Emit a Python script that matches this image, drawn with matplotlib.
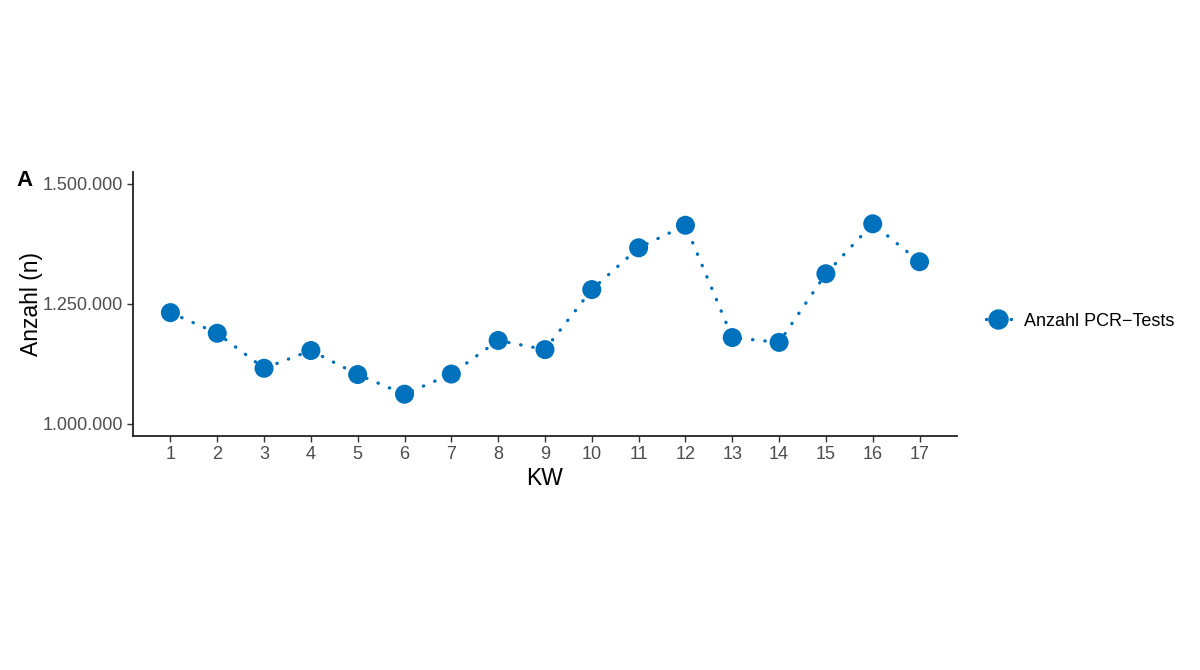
import matplotlib
matplotlib.use("Agg")
import matplotlib.pyplot as plt
from matplotlib.ticker import FuncFormatter
from matplotlib.lines import Line2D

plt.rcParams['font.family'] = ['Liberation Sans', 'DejaVu Sans']

kw = list(range(1, 18))
tests = [1232000, 1189000, 1116000, 1153000, 1103000, 1062000, 1104000, 1174000,
         1155000, 1280000, 1367000, 1414000, 1180000, 1170000, 1313000, 1417000, 1338000]
yticks = [1000000, 1250000, 1500000]
series_label = "Anzahl PCR\u2212Tests"
color = "#0071BC"
dotted = (0, (0.1, 3.6))

fig = plt.figure(figsize=(12, 6.7), dpi=100)
ax = fig.add_axes([0.1108, 0.3493, 0.6867, 0.394])

ax.plot(kw, tests, linestyle=dotted, dash_capstyle='round', color=color, lw=2.4, zorder=2)
ax.scatter(kw, tests, s=13.7**2, color=color, zorder=3, edgecolors='none')

ax.set_xlim(0.2, 17.8)
ax.set_ylim(975000, 1525000)
ax.set_xticks(kw)
ax.set_yticks(yticks)
ax.yaxis.set_major_formatter(FuncFormatter(lambda v, p: f"{int(v):,}".replace(",", ".")))

for s in ['top', 'right']:
    ax.spines[s].set_visible(False)
for s in ['left', 'bottom']:
    ax.spines[s].set_linewidth(1.3)
    ax.spines[s].set_color('#222222')
ax.tick_params(axis='both', length=4, width=1.0, color='#333333', labelcolor='#4D4D4D', labelsize=13, pad=3)

ax.set_xlabel("KW", fontsize=16.5, labelpad=3)
ax.set_ylabel("Anzahl (n)", fontsize=16.5, labelpad=0)

fig.text(16/1200, 1 - 181/670, "A", fontsize=16, fontweight='bold', va='center', ha='left')

handle = Line2D([], [], marker='o', color=color, linestyle=dotted, dash_capstyle='round', lw=2.4, markersize=13.7)
fig.legend([handle], [series_label], loc='center left', bbox_to_anchor=(0.808, 1 - 321/670),
           frameon=False, fontsize=13, handlelength=1.4, handletextpad=0.7)

fig.savefig("out.png", dpi=100, facecolor='white')
